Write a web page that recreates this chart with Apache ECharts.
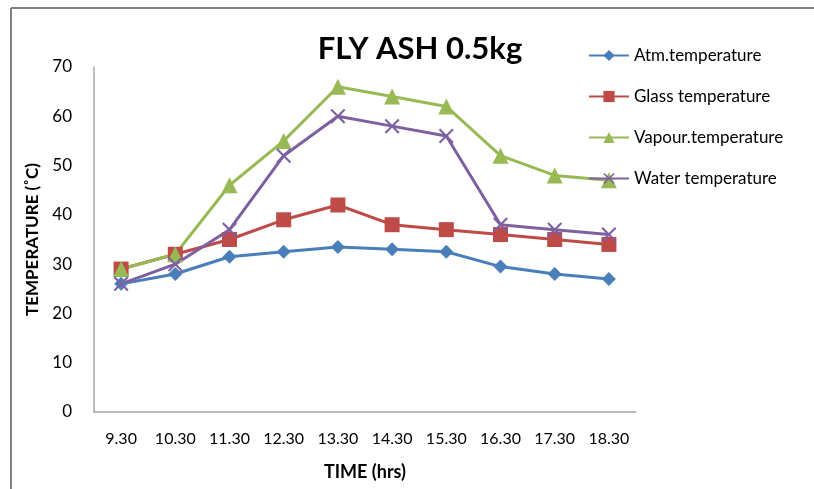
<!DOCTYPE html>
<html><head><meta charset="utf-8">
<script src="https://cdn.jsdelivr.net/npm/echarts@6/dist/echarts.min.js"></script>
<style>html,body{margin:0;padding:0;background:#fff}#c{width:814px;height:489px}</style>
</head><body><div id="c"></div>
<script>
var categories = ['9.30','10.30','11.30','12.30','13.30','14.30','15.30','16.30','17.30','18.30'];
var atmTemp = [26, 28, 31.5, 32.5, 33.5, 33, 32.5, 29.5, 28, 27];
var glassTemp = [29, 32, 35, 39, 42, 38, 37, 36, 35, 34];
var vapourTemp = [29, 32, 46, 55, 66, 64, 62, 52, 48, 47];
var waterTemp = [26, 30, 37, 52, 60, 58, 56, 38, 37, 36];
var yTicks = [0, 10, 20, 30, 40, 50, 60, 70];

var FONT = 'Lato, "Open Sans", sans-serif';
var xSym = 'path://M0,1L1,0L5,4L9,0L10,1L6,5L10,9L9,10L5,6L1,10L0,9L4,5Z';
function mk(name, data, color, symbol, size) {
  return {name: name, type: 'line', data: data, symbol: symbol, symbolSize: size,
    lineStyle: {color: color, width: 3}, itemStyle: {color: color}, z: 3};
}
var chart = echarts.init(document.getElementById('c'));
chart.setOption({
  animation: false,
  backgroundColor: '#fff',
  title: {text: 'FLY ASH 0.5kg', left: 415, textAlign: 'center', top: 28,
    textStyle: {fontFamily: FONT, fontSize: 31, fontWeight: 'bold', color: '#000'}},
  legend: {orient: 'vertical', left: 583, top: 42, itemWidth: 40, itemHeight: 14, itemGap: 24,
    textStyle: {fontFamily: FONT, fontSize: 17, color: '#000'},
    data: ['Atm.temperature','Glass temperature','Vapour.temperature','Water temperature']},
  grid: {left: 94, right: 178, top: 67, bottom: 77},
  xAxis: {type: 'category', data: categories, boundaryGap: true,
    name: 'TIME (hrs)', nameLocation: 'middle', nameGap: 51,
    nameTextStyle: {fontFamily: FONT, fontSize: 18, fontWeight: 'bold', color: '#000'},
    axisLine: {lineStyle: {color: '#a6a6a6', width: 1.5}}, axisTick: {show: false},
    axisLabel: {interval: 0, fontFamily: FONT, fontSize: 16, color: '#000', margin: 19}},
  yAxis: {type: 'value', min: yTicks[0], max: yTicks[yTicks.length-1], interval: 10,
    name: 'TEMPERATURE (˚C)', nameLocation: 'middle', nameGap: 45,
    nameTextStyle: {fontFamily: FONT, fontSize: 17, fontWeight: 'bold', color: '#000'},
    axisLine: {show: true, lineStyle: {color: '#a6a6a6', width: 1.5}}, axisTick: {show: false},
    splitLine: {show: false},
    axisLabel: {fontFamily: FONT, fontSize: 17, color: '#000', margin: 22}},
  graphic: [
    {type: 'line', shape: {x1: 11, y1: 8, x2: 814, y2: 8}, style: {stroke: '#808080', lineWidth: 2}},
    {type: 'line', shape: {x1: 11, y1: 8, x2: 11, y2: 489}, style: {stroke: '#808080', lineWidth: 2}}
  ],
  series: [
    mk('Atm.temperature', atmTemp, '#4A7EBB', 'diamond', 14),
    mk('Glass temperature', glassTemp, '#BE4B48', 'rect', 15),
    mk('Vapour.temperature', vapourTemp, '#98B954', 'triangle', 16),
    mk('Water temperature', waterTemp, '#7D60A0', xSym, 15)
  ]
});
</script></body></html>
